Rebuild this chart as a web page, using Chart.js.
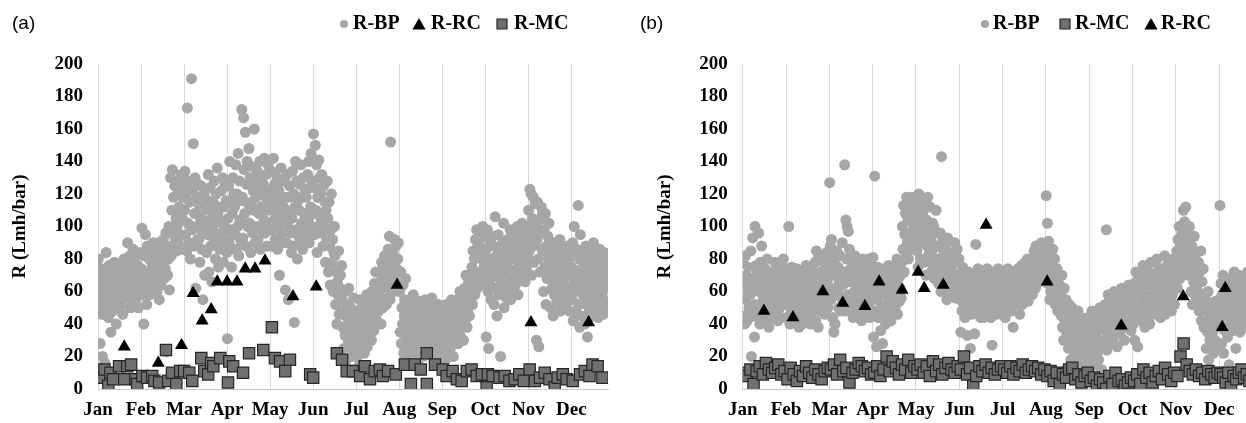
<!DOCTYPE html>
<html>
<head>
<meta charset="utf-8">
<title>R by month</title>
<script src="https://cdn.jsdelivr.net/npm/chart.js@4.4.1/dist/chart.umd.min.js"></script>
<style>
  html, body { margin:0; padding:0; background:#fff; overflow:hidden; }
  #wrap { position:relative; width:1246px; height:423px; overflow:hidden; }
  canvas { position:absolute; top:0; }
  #chartA { left:0; }
  #chartB { left:620px; }
</style>
</head>
<body>
<div id="wrap">
  <canvas id="chartA" width="620" height="423"></canvas>
  <canvas id="chartB" width="660" height="423"></canvas>
</div>
<script>
var months = ['Jan','Feb','Mar','Apr','May','Jun','Jul','Aug','Sep','Oct','Nov','Dec'];
var xEnd = 11.85;   // axis stops a few days before the end of December

// ---- (a) R-BP, one row per month, spread evenly over the month
var bpA = [
  [80,52,68,28,60,74,46,20,64,56,72,16, 58,84,50,70,62,44,76,55,66,35,60,72, 48,70,62,78,54,66,40,74,58,64,50,68, 60,76,52,66,72,46,62,80,56,70,64,58, 66,90,56,74,62,82,50,70,78,60,86,68, 62,80,54,72,66,58,76,50,70,64,84,60],
  [74,99,58,68,40,82,62,95,71,52,88,66, 64,80,58,72,86,60,76,68,90,62,78,70, 70,84,60,76,66,90,55,80,72,64,86,74, 78,92,68,84,74,96,23,88,70,80,100,61, 96,130,82,110,135,88,118,100,125,92,105,85, 100,120,90,112,128,95,108,132,86,118,104,124],
  [110,134,95,120,85,173,102,128,90,115,80,100, 191,98,122,151,88,108,130,62,100,118,92,126, 92,113,78,105,125,86,97,55,110,120,70,102, 100,84,116,95,132,72,104,124,88,110,66,98, 115,90,128,102,80,120,94,136,108,75,112,86, 104,88,122,96,130,78,112,100,126,92,116,84],
  [31,105,125,90,140,98,116,75,108,130,86,120, 112,95,138,86,120,100,145,82,128,104,92,116, 172,118,93,167,135,108,158,88,126,140,100,114, 148,102,130,84,115,137,96,122,110,160,90,128, 118,100,134,92,124,108,140,86,112,130,98,120, 126,104,142,96,118,132,88,110,138,100,122,114],
  [120,98,134,88,112,142,104,126,92,118,108,130, 86,100,122,70,115,95,136,105,128,90,112,118, 128,61,110,90,132,100,55,118,125,96,106,84, 105,134,88,120,41,112,140,98,128,80,116,94, 110,126,92,138,102,118,86,130,108,96,122,100, 118,96,132,104,140,90,124,112,145,100,128,108],
  [157,124,95,150,110,138,84,118,100,141,130,106, 120,96,132,108,88,125,100,115,78,110,92,128, 105,72,115,88,64,98,120,78,92,60,84,100, 82,52,72,40,66,58,85,46,62,70,55,76, 55,38,48,25,60,33,45,18,52,40,30,62, 42,26,50,34,20,46,30,56,38,24,48,35],
  [35,20,48,28,42,15,55,32,25,45,38,52, 38,22,50,30,44,58,26,40,34,52,46,30, 48,30,60,40,55,36,65,45,72,50,42,58, 62,48,72,55,66,40,78,58,50,70,60,82, 62,80,52,74,58,86,68,94,55,152,75,66, 70,84,60,78,92,66,88,74,62,80,90,72],
  [60,35,72,28,50,40,64,22,45,55,68,32, 38,18,48,30,55,25,42,35,50,20,44,58, 32,45,22,52,38,28,46,15,40,34,54,26, 44,26,50,36,20,42,30,55,24,38,48,32, 40,28,52,34,46,22,56,36,30,48,42,26, 34,50,24,44,30,52,38,20,46,28,40,36],
  [36,22,48,30,42,18,52,28,40,34,46,25, 45,25,38,55,30,42,20,50,35,46,32,52, 40,55,28,48,36,60,32,52,44,38,58,30, 50,62,42,70,55,38,48,65,58,45,68,52, 60,75,52,85,66,80,58,92,70,98,62,88, 72,90,64,84,96,70,80,100,66,86,76,94],
  [85,32,72,98,60,25,80,66,90,55,76,94, 70,88,52,76,106,62,82,45,74,95,58,84, 68,20,80,58,90,72,102,50,78,64,86,56, 75,92,60,84,70,98,55,80,66,88,72,62, 80,96,64,90,74,100,58,86,70,94,78,68, 84,102,70,92,78,96,66,88,74,100,82,94],
  [110,85,123,95,120,70,105,88,118,78,100,114, 100,30,92,115,80,26,104,72,96,112,86,108, 85,60,98,75,108,52,88,68,94,80,102,72, 70,50,82,62,90,45,76,58,86,66,78,54, 72,56,84,64,92,48,78,60,88,68,74,58, 64,80,52,74,88,58,70,84,48,76,62,82],
  [75,55,90,42,68,100,60,82,48,72,86,64, 66,113,52,80,38,95,62,74,45,85,58,70, 58,78,40,70,88,52,64,32,76,60,82,48, 72,50,84,62,45,78,55,90,66,48,70,60, 68,54,80,60,44,74,58,86,64,50,76,62, 58,76,46,68,84,54,72,62,80,50,66,74]
];
// ---- (a) R-RC
var rcMonthA = [0.61,1.40,1.94,2.21,2.42,2.63,2.77,3.00,3.23,3.42,3.65,3.88,4.53,5.07,6.95,10.06,11.40];
var rcA      = [26,16,27,59,42,49,66,66,66,74,74,79,57,63,64,41,41];
// ---- (a) R-MC
var mcMonthA = [0.03,0.15,0.24,0.29,0.35,0.49,0.61,0.68,0.77,0.87,0.91,1.03,1.14,1.26,1.31,1.42,1.58,1.63,1.72,1.82,
  1.91,2.00,2.12,2.19,2.40,2.47,2.56,2.63,2.68,2.84,3.02,3.05,3.14,3.37,3.51,3.84,4.04,4.11,4.23,4.35,
  4.46,4.93,5.00,5.55,5.67,5.78,5.92,6.09,6.20,6.32,6.43,6.55,6.62,6.74,6.92,7.13,7.27,7.36,7.50,7.64,
  7.64,7.83,8.01,8.10,8.24,8.34,8.45,8.57,8.68,8.80,8.92,9.03,9.06,9.17,9.33,9.45,9.56,9.68,9.79,9.89,
  10.03,10.15,10.27,10.38,10.49,10.61,10.68,10.80,10.89,11.03,11.20,11.31,11.42,11.49,11.61,11.72];
var mcA = [7,12,2,10,6,14,6,14,15,6,3,8,7,8,5,4,24,5,10,3,
  11,11,10,5,19,11,9,16,14,19,4,17,14,10,22,24,38,19,17,11,
  18,9,7,22,18,11,11,8,14,6,11,12,8,11,9,15,3,15,12,3,
  22,15,12,8,11,6,5,11,12,8,9,1,9,8,7,8,5,6,9,5,
  12,5,7,10,6,1,7,9,6,5,9,11,8,15,14,7];

// ---- (b) R-BP
var bpB = [
  [78,45,65,40,82,55,70,42,60,75,50,68, 58,85,20,68,93,45,62,32,100,52,76,66, 72,48,96,60,40,78,52,88,66,44,56,70, 58,74,42,64,80,50,70,38,62,55,46,68, 60,72,44,66,52,78,48,62,70,56,42,74, 66,50,76,58,44,70,62,80,52,68,56,74],
  [65,44,72,52,100,60,40,68,48,75,56,62, 55,70,42,62,50,74,46,58,66,38,52,68, 60,45,72,40,56,68,48,64,52,76,44,62, 58,74,46,66,40,70,52,62,48,72,56,64, 78,42,85,55,70,38,82,60,48,72,64,52, 70,54,80,62,46,76,58,84,66,50,72,60],
  [127,88,55,92,70,44,80,35,62,40,76,58, 85,60,75,50,66,82,48,70,56,90,64,52, 72,138,48,104,80,100,58,97,66,86,52,74, 68,50,78,44,70,60,82,48,64,56,74,62, 66,48,76,54,70,42,80,58,62,74,50,68, 58,74,46,66,80,52,70,44,62,76,56,68],
  [81,32,62,131,48,70,26,55,75,44,66,58, 60,36,72,50,28,66,45,74,58,40,64,52, 68,52,76,46,62,70,42,56,72,50,60,66, 64,50,72,58,80,46,68,76,54,62,70,56, 78,100,86,113,72,95,108,84,118,90,104,80, 96,112,88,106,118,92,102,86,110,98,114,90],
  [118,85,105,75,120,95,112,80,100,90,108,96, 110,78,96,116,70,104,88,118,82,100,92,112, 92,72,85,102,76,100,68,96,80,110,88,78, 88,65,80,72,96,60,143,76,92,70,84,66, 88,62,78,55,93,68,84,58,74,66,80,70, 72,60,84,66,90,56,78,64,86,70,62,80],
  [70,55,35,66,48,75,60,52,68,44,62,58, 62,33,56,72,50,64,25,58,46,70,54,66, 60,34,54,89,66,48,62,74,52,58,70,44, 64,50,72,56,44,68,60,54,66,48,74,58, 64,50,72,56,44,68,27,60,54,70,62,48, 58,70,46,64,74,52,66,56,72,48,62,68],
  [65,50,72,58,44,68,62,54,74,60,48,66, 56,70,48,64,60,38,66,52,72,58,62,54, 62,74,54,68,46,70,60,76,52,66,58,64, 66,78,58,72,62,80,54,70,64,76,60,68, 72,58,80,64,85,70,62,88,75,82,68,78, 76,66,84,72,90,68,80,74,86,70,82,78],
  [119,80,102,65,91,72,55,84,60,76,68,86, 72,58,80,52,66,62,74,48,70,56,64,60, 58,45,70,38,52,30,62,42,48,55,34,50, 40,25,52,34,46,18,38,50,28,44,32,22, 36,20,42,14,32,48,24,38,16,30,44,26, 28,40,18,34,12,42,24,36,20,30,44,16],
  [28,12,38,20,48,8,32,42,15,25,36,22, 35,22,45,18,30,50,40,26,12,38,28,44, 42,30,52,36,98,24,48,58,34,44,28,40, 50,38,56,30,46,60,40,52,35,48,26,44, 52,40,58,34,48,62,44,56,38,50,30,46, 48,60,38,54,44,64,40,56,50,36,58,46],
  [55,40,65,30,50,72,45,60,26,52,68,48, 62,48,70,42,58,76,50,66,38,56,44,64, 68,45,72,55,40,64,78,50,60,46,70,58, 58,70,48,66,80,54,62,74,52,68,44,60, 62,74,50,70,56,82,46,66,58,76,52,64, 66,54,76,60,48,72,58,80,64,52,70,62],
  [70,85,62,92,75,100,68,88,80,95,72,84, 110,82,103,90,112,76,96,86,70,92,100,80, 74,60,88,52,80,66,94,58,72,84,62,70, 60,78,48,72,55,85,42,66,52,74,38,58, 40,55,25,48,35,60,18,45,30,52,42,36, 34,48,22,42,30,54,26,44,38,50,28,40],
  [55,113,40,65,28,58,45,70,22,50,62,36, 62,38,52,68,32,48,60,15,56,44,66,40, 50,66,36,58,46,72,40,62,25,54,48,60, 60,42,70,50,35,64,48,58,38,66,54,44, 58,46,68,52,40,62,50,72,44,56,64,48, 52,64,40,58,46,70,42,60,50,66,44,56]
];
// ---- (b) R-RC
var rcMonthB = [0.49,1.16,1.85,2.31,2.82,3.15,3.68,4.05,4.19,4.63,5.62,7.03,8.74,10.17,11.07,11.14];
var rcB      = [48,44,60,53,51,66,61,72,62,64,101,66,39,57,38,62];
// ---- (b) R-MC, one row per month
var mcB = [
  [10,8,12,3,11,14,9,16,12,10,13,15,9,11],
  [6,13,9,5,11,8,14,10,7,12,9,6,11,13],
  [12,15,9,18,11,13,4,10,12,16,14,11,13,9],
  [10,14,8,12,20,11,17,13,9,15,12,18,10,14],
  [12,15,10,14,8,17,11,15,9,13,16,12,10,14],
  [12,20,9,13,2,8,14,11,15,10,13,9,12,14],
  [12,10,14,9,13,11,15,10,12,14,11,13,9,12],
  [8,11,5,10,3,9,7,12,13,6,9,4,8,10],
  [5,7,2,6,4,0,8,3,10,5,6,2,4,7],
  [5,9,3,12,7,10,4,8,11,6,13,9,5,10],
  [8,20,28,15,11,9,12,8,10,6,11,9,7,10],
  [9,7,4,10,1,8,6,10,12,7,9,5,8,11]
];

Chart.defaults.font.family = "'Liberation Serif', 'Times New Roman', serif";
Chart.defaults.color = '#000';

function spreadMonths(rows) {
  var pts = [];
  for (var m = 0; m < rows.length; m++) {
    var span = m == 11 ? xEnd - 11 : 1;
    for (var i = 0; i < rows[m].length; i++) {
      pts.push({x: m + (i + 0.5) / rows[m].length * span, y: rows[m][i]});
    }
  }
  return pts;
}

function pair(xs, ys) {
  return xs.map(function(x, i){ return {x: x, y: ys[i]}; });
}

function drawMarker(ctx, style, x, y, fill, stroke, bw, s) {
  ctx.beginPath();
  if (style == 'circle') {
    ctx.arc(x, y, s / 2, 0, Math.PI * 2);
  } else if (style == 'triangle') {
    ctx.moveTo(x, y - s * 0.5);
    ctx.lineTo(x + s * 0.55, y + s * 0.45);
    ctx.lineTo(x - s * 0.55, y + s * 0.45);
    ctx.closePath();
  } else {
    ctx.rect(x - s / 2, y - s / 2, s, s);
  }
  ctx.fillStyle = fill;
  ctx.fill();
  if (bw) { ctx.lineWidth = bw; ctx.strokeStyle = stroke; ctx.stroke(); }
}

// panel letter and legend row above the plot
var panelLegend = {
  id: 'panelLegend',
  afterDraw: function(chart, args, o) {
    var ctx = chart.ctx;
    ctx.save();
    ctx.textBaseline = 'middle';
    ctx.fillStyle = '#000';
    ctx.font = '19px "Liberation Sans", Arial, sans-serif';
    ctx.fillText(o.label, o.labelX, o.y);
    ctx.font = 'bold 20px "Liberation Serif", "Times New Roman", serif';
    o.items.forEach(function(it) {
      var ds = chart.data.datasets[it.index];
      drawMarker(ctx, ds.pointStyle, it.x, o.y, ds.pointBackgroundColor, ds.pointBorderColor, ds.pointBorderWidth, it.size);
      ctx.fillStyle = '#000';
      ctx.fillText(ds.label, it.text, o.y);
    });
    ctx.restore();
  }
};

function bpSet(pts) {
  return {label:'R-BP', data:pts, pointStyle:'circle', pointRadius:5.5,
    pointBackgroundColor:'#a6a6a6', pointBorderColor:'#a6a6a6', pointBorderWidth:0, order:3};
}
function rcSet(pts, order) {
  return {label:'R-RC', data:pts, pointStyle:'triangle', pointRadius:7.5,
    pointBackgroundColor:'#000', pointBorderColor:'#000', pointBorderWidth:0, order:order};
}
function mcSet(pts, order) {
  return {label:'R-MC', data:pts, pointStyle:'rect', pointRadius:8,
    pointBackgroundColor:'#707070', pointBorderColor:'#262626', pointBorderWidth:1.2, order:order};
}

function makeChart(el, datasets, yWidth, titlePad, padRight, legend) {
  return new Chart(el, {
    type: 'scatter',
    plugins: [panelLegend],
    data: { datasets: datasets },
    options: {
      responsive: false,
      animation: false,
      devicePixelRatio: 1,
      events: [],
      layout: { padding: {top: 64, right: padRight, bottom: 0, left: 0} },
      plugins: {
        legend: {display: false},
        tooltip: {enabled: false},
        panelLegend: legend
      },
      scales: {
        x: {
          type: 'linear', min: 0, max: xEnd,
          afterBuildTicks: function(s) { s.ticks = months.map(function(m, i){ return {value: i}; }); },
          afterFit: function(s) { s.height = 34; },
          border: {color: '#c8c8c8', width: 1},
          grid: {drawTicks: false, color: '#d9d9d9', lineWidth: 1},
          ticks: {autoSkip: false, maxRotation: 0, padding: 10, font: {size: 19, weight: 'bold'},
            callback: function(v){ return months[v]; }}
        },
        y: {
          min: 0, max: 200,
          afterFit: function(s) { s.width = yWidth; },
          border: {color: '#d9d9d9', width: 1},
          grid: {display: false, drawTicks: false},
          title: {display: true, text: 'R (Lmh/bar)', font: {size: 19, weight: 'bold'}, padding: {top: titlePad, bottom: 0}},
          ticks: {stepSize: 20, padding: 15, font: {size: 19, weight: 'bold'}}
        }
      }
    }
  });
}

var chartA = makeChart(document.getElementById('chartA'), [
    bpSet(spreadMonths(bpA)),
    rcSet(pair(rcMonthA, rcA), 2),
    mcSet(pair(mcMonthA, mcA), 1)
  ], 98, 8.6, 12,
  {label:'(a)', labelX:12, y:24, items:[
    {index:0, x:344, text:353, size:8},
    {index:1, x:419, text:431, size:12},
    {index:2, x:502, text:514, size:10}
  ]});

var chartB = makeChart(document.getElementById('chartB'), [
    bpSet(spreadMonths(bpB)),
    mcSet(spreadMonths(mcB), 2),
    rcSet(pair(rcMonthB, rcB), 1)
  ], 122.7, 33.6, 24,
  {label:'(b)', labelX:20, y:24, items:[
    {index:0, x:365, text:373, size:8},
    {index:1, x:445, text:455, size:10},
    {index:2, x:531, text:541, size:12}
  ]});
</script>
</body>
</html>
